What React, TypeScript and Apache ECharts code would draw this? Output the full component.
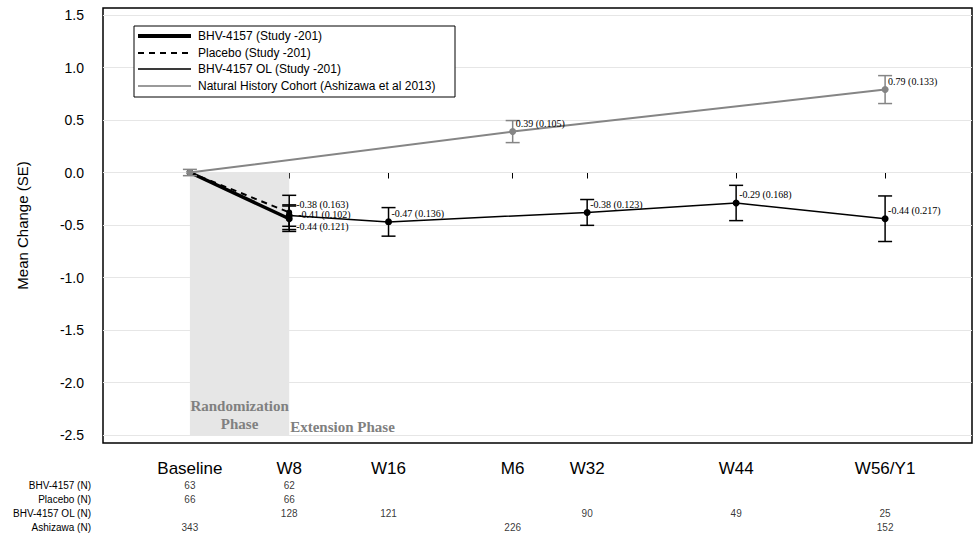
import React, { useEffect, useRef } from "react";
import * as echarts from "echarts";

// ---- data ----
const xWeeks = [0, 8, 16, 26, 32, 44, 56];
const xLabels = ["Baseline", "W8", "W16", "M6", "W32", "W44", "W56/Y1"];
const yTicks = [-2.5, -2, -1.5, -1, -0.5, 0, 0.5, 1, 1.5];

const bhvWeeks = [0, 8];
const bhvMean = [0, -0.44];
const bhvSE = [null, 0.121];

const pboWeeks = [0, 8];
const pboMean = [0, -0.38];
const pboSE = [null, 0.163];

const olWeeks = [8, 16, 32, 44, 56];
const olMean = [-0.41, -0.47, -0.38, -0.29, -0.44];
const olSE = [0.102, 0.136, 0.123, 0.168, 0.217];

const ashWeeks = [0, 26, 56];
const ashMean = [0, 0.39, 0.79];
const ashSE = [0.03, 0.105, 0.133];

const tableRows = ["BHV-4157 (N)", "Placebo (N)", "BHV-4157 OL (N)", "Ashizawa (N)"];
const bhvN = [63, 62];
const pboN = [66, 66];
const olN = [128, 121, 90, 49, 25];
const ashN = [343, 226, 152];

const legendNames = [
  "BHV-4157 (Study -201)",
  "Placebo (Study -201)",
  "BHV-4157 OL (Study -201)",
  "Natural History Cohort (Ashizawa et al 2013)",
];

// ---- styling helpers ----
const SERIF = '"Liberation Serif", "DejaVu Serif", serif';
const SANS = '"Liberation Sans", Arial, sans-serif';
const GRAY = "#858585";

const zip = (w: number[], m: number[]) => w.map((x, i) => [x, m[i]]);

function errorSeries(
  name: string,
  weeks: number[],
  means: number[],
  ses: (number | null)[],
  color: string,
  offsets: Record<number, [number, number]>
) {
  const data = weeks
    .map((w, i) => [w, means[i], ses[i], i])
    .filter((d) => d[2] != null);
  return {
    type: "custom",
    name: name + " SE",
    xAxisIndex: 0,
    yAxisIndex: 0,
    z: 6,
    silent: true,
    data,
    encode: { x: 0, y: 1 },
    renderItem: (params: any, api: any) => {
      const x = api.value(0);
      const m = api.value(1);
      const se = api.value(2);
      const idx = api.value(3);
      const p = api.coord([x, m]);
      const hi = api.coord([x, m + se]);
      const lo = api.coord([x, m - se]);
      const cap = 7;
      const st = { stroke: color, lineWidth: 1.5 };
      const children: any[] = [
        { type: "line", shape: { x1: p[0], y1: hi[1], x2: p[0], y2: lo[1] }, style: st },
        { type: "line", shape: { x1: p[0] - cap, y1: hi[1], x2: p[0] + cap, y2: hi[1] }, style: st },
        { type: "line", shape: { x1: p[0] - cap, y1: lo[1], x2: p[0] + cap, y2: lo[1] }, style: st },
      ];
      if (x !== 0) {
        const off = offsets[idx] || [3, -8];
        children.push({
          type: "text",
          x: p[0] + off[0],
          y: p[1] + off[1],
          style: {
            text: `${m.toFixed(2)} (${se.toFixed(3)})`,
            fill: "#000",
            fontSize: 10,
            fontFamily: SERIF,
            align: "left",
            verticalAlign: "middle",
          },
        });
      }
      return { type: "group", children };
    },
  };
}

function tableSeries(row: string, weeks: number[], ns: number[]) {
  return {
    type: "scatter",
    name: row,
    xAxisIndex: 1,
    yAxisIndex: 1,
    symbolSize: 0,
    silent: true,
    data: weeks.map((w, i) => [w, row, ns[i]]),
    label: {
      show: true,
      position: "inside",
      formatter: (p: any) => String(p.value[2]),
      fontSize: 10,
      color: "#000",
      fontFamily: SANS,
    },
  };
}

const legendLineStyles = [
  { stroke: "#000", lineWidth: 4 },
  { stroke: "#000", lineWidth: 2, lineDash: [6, 5] },
  { stroke: "#3a3a3a", lineWidth: 2 },
  { stroke: "#9a9a9a", lineWidth: 2 },
];
const legendRowsY = [36, 53, 69, 86];

const option: any = {
  animation: false,
  backgroundColor: "#fff",
  grid: [
    { left: 103, right: 2, top: 8, bottom: 97, show: true, borderColor: "#000", borderWidth: 1.5, backgroundColor: "transparent" },
    { left: 103, right: 2, top: 479, height: 55 },
  ],
  xAxis: [
    {
      type: "value",
      gridIndex: 0,
      min: -7,
      max: 63,
      axisLine: { show: false },
      splitLine: { show: false },
      axisTick: { show: true, customValues: xWeeks, length: 6, lineStyle: { color: "#000" } },
      axisLabel: {
        customValues: xWeeks,
        formatter: (v: number) => xLabels[xWeeks.indexOf(v)] ?? "",
        fontSize: 17,
        color: "#000",
        margin: 17,
        fontFamily: SANS,
      },
    },
    { type: "value", gridIndex: 1, min: -7, max: 63, show: false },
  ],
  yAxis: [
    {
      type: "value",
      gridIndex: 0,
      min: -2.576,
      max: 1.567,
      axisLine: { show: false },
      splitLine: { show: false },
      axisTick: { show: true, customValues: yTicks, length: 6, lineStyle: { color: "#000" } },
      axisLabel: {
        customValues: yTicks,
        formatter: (v: number) => (Math.abs(v) < 1e-9 ? "0.0" : v.toFixed(1)),
        fontSize: 14,
        color: "#000",
        margin: 19,
        fontFamily: SANS,
      },
      name: "Mean Change (SE)",
      nameLocation: "middle",
      nameGap: 73,
      nameTextStyle: { fontSize: 15, color: "#000", fontFamily: SANS },
    },
    {
      type: "category",
      gridIndex: 1,
      data: tableRows,
      inverse: true,
      axisLine: { show: false },
      axisTick: { show: false },
      splitLine: { show: false },
      axisLabel: { fontSize: 10, color: "#000", margin: 12, fontFamily: SANS },
    },
  ],
  series: [
    {
      type: "line",
      name: "gridlines",
      xAxisIndex: 0,
      yAxisIndex: 0,
      data: [],
      z: 0,
      silent: true,
      markLine: {
        silent: true,
        symbol: ["none", "none"],
        label: { show: false },
        lineStyle: { color: "#e6e6e6", type: "solid", width: 1 },
        data: yTicks.map((v) => ({ yAxis: v })),
      },
    },
    {
      type: "line",
      name: "phases",
      xAxisIndex: 0,
      yAxisIndex: 0,
      data: [],
      z: 1,
      silent: true,
      markArea: {
        silent: true,
        data: [
          [
            {
              xAxis: 0,
              yAxis: 0,
              itemStyle: { color: "#e6e6e6" },
              label: {
                show: true,
                position: "insideBottom",
                distance: 2,
                formatter: "Randomization\nPhase",
                color: "#808080",
                fontWeight: "bold",
                fontFamily: SERIF,
                fontSize: 15,
                lineHeight: 18,
              },
            },
            { xAxis: 8, yAxis: -2.5 },
          ],
          [
            {
              xAxis: 8,
              yAxis: 0,
              itemStyle: { color: "rgba(0,0,0,0)" },
              label: {
                show: true,
                position: "insideBottomLeft",
                distance: 1,
                formatter: "Extension Phase",
                color: "#808080",
                fontWeight: "bold",
                fontFamily: SERIF,
                fontSize: 15,
              },
            },
            { xAxis: 63, yAxis: -2.5 },
          ],
        ],
      },
    },
    {
      type: "line",
      name: legendNames[2],
      xAxisIndex: 0,
      yAxisIndex: 0,
      data: zip(olWeeks, olMean),
      z: 3,
      symbol: "circle",
      symbolSize: 7,
      itemStyle: { color: "#000" },
      lineStyle: { color: "#000", width: 1.5 },
    },
    {
      type: "line",
      name: legendNames[1],
      xAxisIndex: 0,
      yAxisIndex: 0,
      data: zip(pboWeeks, pboMean),
      z: 3,
      symbol: "circle",
      symbolSize: 6,
      itemStyle: { color: "#000" },
      lineStyle: { color: "#000", width: 2, type: [6, 5] },
    },
    {
      type: "line",
      name: legendNames[0],
      xAxisIndex: 0,
      yAxisIndex: 0,
      data: zip(bhvWeeks, bhvMean),
      z: 4,
      symbol: "circle",
      symbolSize: 7,
      itemStyle: { color: "#000" },
      lineStyle: { color: "#000", width: 3.5 },
    },
    {
      type: "line",
      name: legendNames[3],
      xAxisIndex: 0,
      yAxisIndex: 0,
      data: zip(ashWeeks, ashMean),
      z: 5,
      symbol: "circle",
      symbolSize: 7,
      itemStyle: { color: GRAY },
      lineStyle: { color: GRAY, width: 2 },
    },
    errorSeries(legendNames[0], bhvWeeks, bhvMean, bhvSE, "#000", { 1: [7, 7.5] }),
    errorSeries(legendNames[1], pboWeeks, pboMean, pboSE, "#000", { 1: [7, -8] }),
    errorSeries(legendNames[2], olWeeks, olMean, olSE, "#000", { 0: [9, -1] }),
    errorSeries(legendNames[3], ashWeeks, ashMean, ashSE, GRAY, {}),
    tableSeries(tableRows[0], bhvWeeks, bhvN),
    tableSeries(tableRows[1], pboWeeks, pboN),
    tableSeries(tableRows[2], olWeeks, olN),
    tableSeries(tableRows[3], ashWeeks, ashN),
  ],
  graphic: [
    {
      type: "rect",
      z: 100,
      zlevel: 1,
      shape: { x: 134, y: 26, width: 321, height: 71 },
      style: { fill: "#fff", stroke: "#000", lineWidth: 1 },
    },
    ...legendNames.map((n, i) => ({
      type: "line",
      z: 101,
      zlevel: 1,
      shape: { x1: 138, y1: legendRowsY[i], x2: 191, y2: legendRowsY[i] },
      style: legendLineStyles[i],
    })),
    ...legendNames.map((n, i) => ({
      type: "text",
      z: 101,
      zlevel: 1,
      x: 198,
      y: legendRowsY[i],
      style: {
        text: n,
        fill: "#000",
        fontSize: 12,
        fontFamily: SANS,
        verticalAlign: "middle",
        align: "left",
      },
    })),
  ],
};

export default function App() {
  const ref = useRef<HTMLDivElement>(null);
  useEffect(() => {
    document.body.style.margin = "0";
    const chart = echarts.init(ref.current as HTMLDivElement, null, { renderer: "svg" });
    chart.setOption(option);
    return () => chart.dispose();
  }, []);
  return <div ref={ref} style={{ width: 974, height: 540, position: "absolute", left: 0, top: 0 }} />;
}
